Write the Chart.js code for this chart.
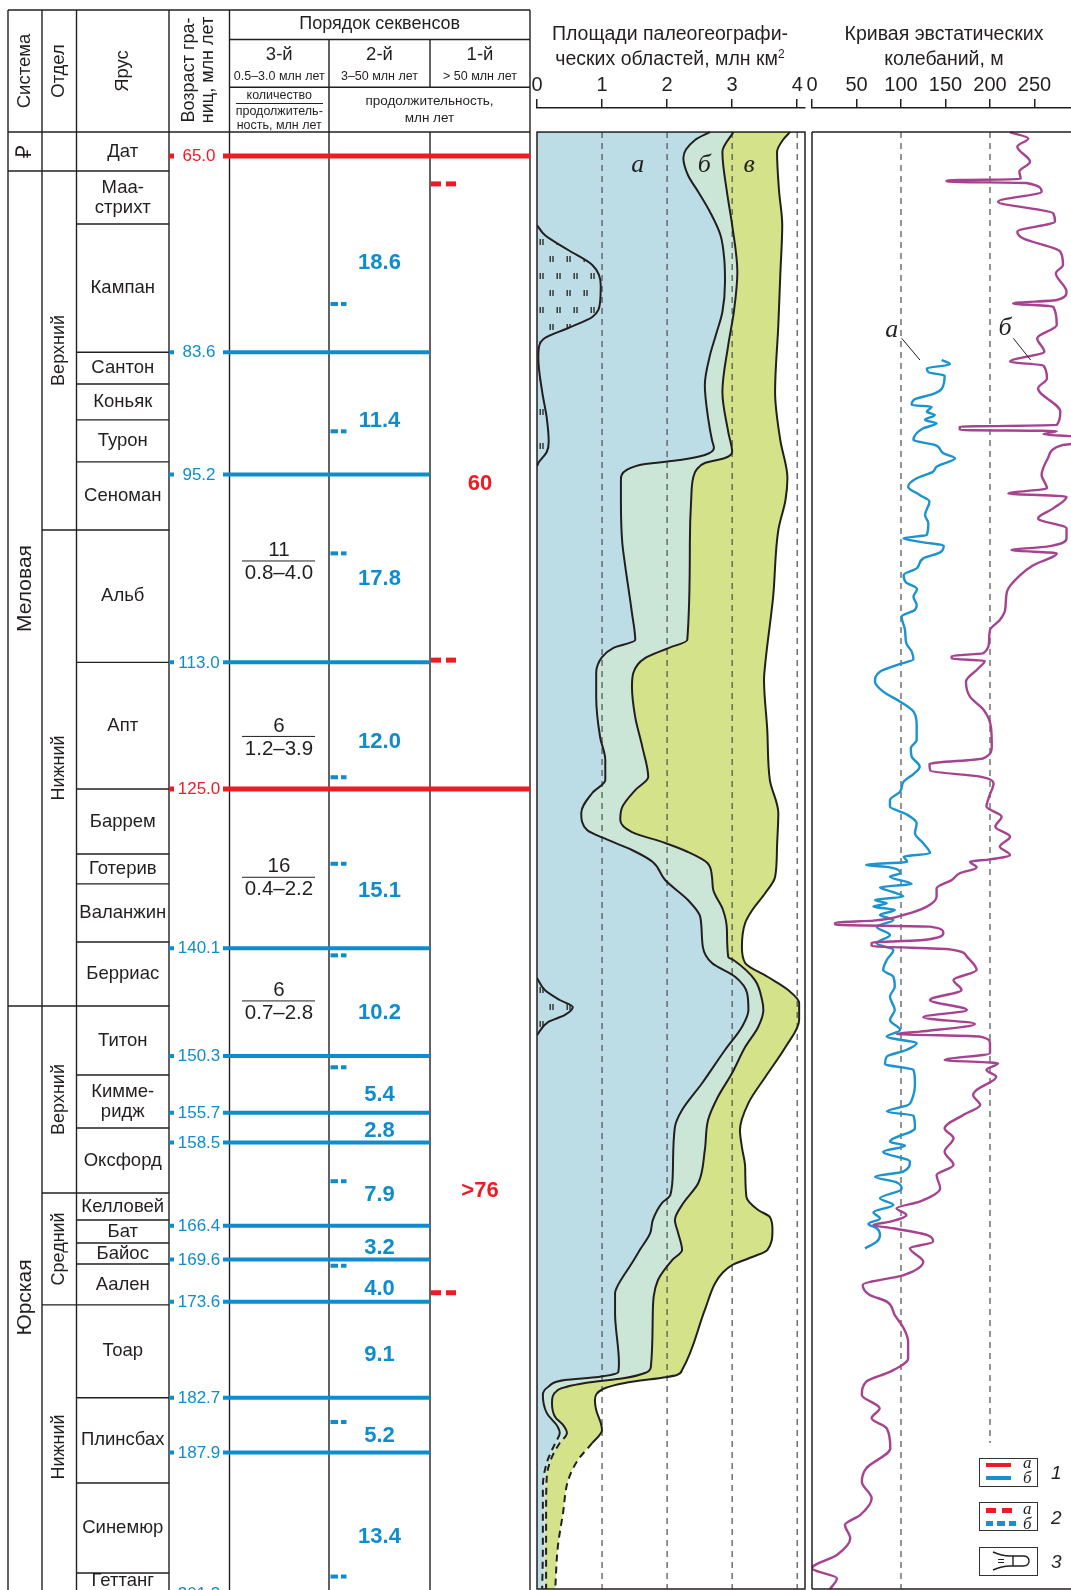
<!DOCTYPE html>
<html lang="ru">
<head>
<meta charset="utf-8">
<title>Порядок секвенсов, палеогеография и эвстатика (юра – мел)</title>
<script src="https://cdn.jsdelivr.net/npm/chart.js@4.4.1/dist/chart.umd.min.js"></script>
<style>
  html, body { margin: 0; padding: 0; background: #fff; }
  body { position: relative; width: 1071px; height: 1590px; overflow: hidden;
         font-family: "Liberation Sans", Arial, sans-serif; color: #231f20; }
  canvas.layer { position: absolute; left: 0; top: 0; }
  .title { position: absolute; top: 21px; width: 300px; text-align: center;
           font-size: 19.5px; line-height: 24.5px; }
  .title sup { font-size: 12px; vertical-align: 7px; line-height: 0; }
  .key { position: absolute; left: 979px; width: 57px; height: 27px; border: 1.5px solid #333; background: #fff; }
  .key i { position: absolute; left: 6px; width: 25px; height: 4.5px; }
  .key .red { background: #ed1c24; }
  .key .blue { background: #1b8fc9; }
  .key .red.dash { background: repeating-linear-gradient(90deg, #ed1c24 0 10.5px, transparent 10.5px 16px); width: 28px; }
  .key .blue.dash { background: repeating-linear-gradient(90deg, #1b8fc9 0 7px, transparent 7px 11.5px); width: 30px; }
  .key b { position: absolute; left: 43px; font: italic 17px/14px "Liberation Serif", serif; font-weight: normal; }
  .key svg { position: absolute; left: 12px; top: 2px; }
  .knum { position: absolute; left: 1051px; font: italic 19px/20px "Liberation Sans", Arial, sans-serif; }
</style>
</head>
<body>
<canvas id="tableChart" class="layer" width="1071" height="1590"></canvas>
<canvas id="areaChart" class="layer" width="1071" height="1590"></canvas>
<canvas id="seaChart" class="layer" width="1090" height="1590"></canvas>

<div class="title" style="left:520px">Площади палеогеографи-<br>ческих областей, млн км<sup>2</sup></div>
<div class="title" style="left:794px">Кривая эвстатических<br>колебаний, м</div>

<div class="key" style="top:1458px">
  <i class="red" style="top:3.5px"></i><i class="blue" style="top:16.5px"></i>
  <b style="top:-3px">а</b><b style="top:12px">б</b>
</div>
<span class="knum" style="top:1463px">1</span>
<div class="key" style="top:1502px">
  <i class="red dash" style="top:5px"></i><i class="blue dash" style="top:18px"></i>
  <b style="top:-1px">а</b><b style="top:14px">б</b>
</div>
<span class="knum" style="top:1508px">2</span>
<div class="key" style="top:1547px">
  <svg width="40" height="22" viewBox="0 0 40 22">
    <path d="M1 2 Q10 6 18 6 L31 6 Q37 6 37 11 Q37 16 31 16 L18 16 Q10 16 1 20" fill="none" stroke="#231f20" stroke-width="1.4"/>
    <path d="M21 6 L21 16" stroke="#231f20" stroke-width="1.4"/>
    <path d="M6 9.5 L12 9.5 M6 12.5 L12 12.5" stroke="#231f20" stroke-width="1.1"/>
  </svg>
</div>
<span class="knum" style="top:1552px">3</span>

<script>
// ---------- stratigraphic table (ages in Ma) ----------
const boundaryAges = [65.0, 83.6, 95.2, 113.0, 125.0, 140.1, 150.3, 155.7, 158.5, 166.4, 169.6, 173.6, 182.7, 187.9, 201.3];
const boundaryRank = [1, 2, 2, 2, 1, 2, 2, 2, 2, 2, 2, 2, 2, 2, 2];

const systemNames = ['₽', 'Меловая', 'Юрская'];
const systemBase = [66.42, 145.57, 203.0];
const seriesNames = ['', 'Верхний', 'Нижний', 'Верхний', 'Средний', 'Нижний'];
const seriesBase = [66.42, 100.45, 145.57, 163.29, 173.9, 203.0];
const stageNames = ['Дат', 'Маа-\nстрихт', 'Кампан', 'Сантон', 'Коньяк', 'Турон', 'Сеноман', 'Альб', 'Апт',
  'Баррем', 'Готерив', 'Валанжин', 'Берриас', 'Титон', 'Кимме-\nридж', 'Оксфорд', 'Келловей', 'Бат',
  'Байос', 'Аален', 'Тоар', 'Плинсбах', 'Синемюр', 'Геттанг'];
const stageBase = [66.42, 71.45, 83.6, 86.61, 90.02, 94.00, 100.45, 113.0, 125.0,
  131.16, 134.00, 139.50, 145.57, 152.11, 157.13, 163.29, 165.86, 168.03,
  170.02, 173.9, 182.7, 190.79, 199.32, 203.0];

const thirdOrderCount = ['11', '6', '16', '6'];
const thirdOrderSpan = ['0.8–4.0', '1.2–3.9', '0.4–2.2', '0.7–2.8'];
const thirdOrderAt = [103.39, 120.02, 133.37, 145.09];
const secondOrderDuration = ['18.6', '11.4', '17.8', '12.0', '15.1', '10.2', '5.4', '2.8', '7.9', '3.2', '4.0', '9.1', '5.2', '13.4'];
const secondOrderAt = [75.18, 90.12, 105.08, 120.51, 134.69, 146.26, 153.98, 157.46, 163.44, 168.55, 172.39, 178.68, 186.29, 195.94];
const secondOrderMarks = [79.03, 91.10, 102.67, 123.89, 132.09, 140.77, 151.38, 162.18, 170.19, 185.00, 199.65];
const firstOrderDuration = ['60', '>76'];
const firstOrderAt = [96.11, 163.14];
const firstOrderMarks = [67.65, 112.79, 172.75];

// ---------- paleogeographic areas, mln km2: [age, cumulative area] ----------
const curveA = [[62.73,2.66],[63.48,2.43],[65.19,2.25],[66.80,2.32],[68.41,2.48],[70.31,2.66],[72.49,2.82],[74.86,2.88],
  [76.94,2.89],[79.79,2.85],[81.97,2.75],[83.86,2.66],[86.71,2.58],[89.83,2.63],[91.92,2.69],[92.68,2.72],[93.34,2.58],
  [93.82,2.20],[94.20,1.66],[94.76,1.38],[95.71,1.29],[97.61,1.29],[101.59,1.31],[103.58,1.35],[108.32,1.46],[110.88,1.51],
  [111.64,1.17],[112.49,1.00],[114.01,0.91],[116.28,0.91],[120.07,0.97],[122.25,1.05],[124.15,1.05],[125.38,0.85],
  [127.27,0.68],[128.89,0.77],[129.83,1.09],[130.78,1.46],[131.92,1.78],[133.63,1.97],[135.52,2.32],[137.13,2.51],
  [139.98,2.55],[141.49,2.69],[142.82,3.05],[144.34,3.23],[145.95,3.25],[147.56,3.15],[149.74,2.89],[152.87,2.54],
  [155.43,2.23],[157.04,2.12],[160.83,2.09],[163.49,2.05],[164.25,1.92],[165.86,1.78],[167.09,1.74],[168.70,1.58],
  [169.93,1.46],[172.21,1.23],[172.77,1.20],[174.67,1.20],[179.41,1.26],[180.26,1.25],[180.73,0.94],[181.02,0.43],
  [181.68,0.17],[182.44,0.09],[184.14,0.15],[185.47,0.32],[186.04,0.35],[186.99,0.28],[188.88,0.15],[191.16,0.09],
  [196.85,0.09],[200.83,0.08]];
const curveB = [[62.73,3.02],[64.62,2.85],[68.41,2.92],[71.54,3.00],[75.99,3.08],[79.60,3.03],[82.92,2.94],[87.37,2.85],
  [91.16,2.94],[93.06,3.00],[93.63,2.89],[94.10,2.58],[94.76,2.45],[95.52,2.40],[97.61,2.37],[101.59,2.35],[110.88,2.31],
  [111.64,2.02],[112.59,1.66],[114.01,1.48],[115.34,1.46],[118.18,1.51],[121.03,1.62],[123.87,1.71],[125.10,1.51],
  [126.71,1.31],[127.94,1.28],[129.08,1.46],[130.12,1.97],[130.97,2.32],[132.02,2.62],[133.34,2.69],[134.58,2.71],
  [136.47,2.86],[138.37,2.92],[140.93,2.94],[141.21,3.02],[143.11,3.35],[145.00,3.46],[145.95,3.48],[147.56,3.40],
  [149.46,3.20],[151.92,3.00],[154.20,2.78],[156.38,2.63],[159.22,2.58],[162.35,2.48],[164.25,2.25],[165.86,2.12],
  [167.09,2.17],[168.70,2.23],[169.64,2.08],[171.54,1.86],[174.67,1.78],[179.79,1.75],[180.36,1.66],[180.83,1.35],
  [181.30,0.74],[181.97,0.32],[183.20,0.23],[184.53,0.28],[185.28,0.40],[186.04,0.46],[186.99,0.35],[188.31,0.23],
  [190.21,0.15],[193.63,0.14],[200.83,0.14]];
const curveC = [[62.73,3.89],[63.48,3.78],[64.62,3.69],[68.22,3.72],[71.54,3.77],[76.28,3.74],[81.02,3.71],[87.37,3.66],
  [91.92,3.74],[95.52,3.85],[97.61,3.82],[100.45,3.71],[106.80,3.63],[113.06,3.51],[114.67,3.49],[119.41,3.54],
  [124.15,3.58],[127.27,3.71],[130.50,3.69],[133.34,3.66],[134.86,3.51],[136.47,3.31],[137.70,3.20],[139.98,3.15],
  [141.49,3.20],[142.82,3.55],[144.05,3.86],[145.29,4.03],[146.90,4.03],[149.46,3.82],[152.30,3.51],[154.77,3.25],
  [157.33,3.12],[158.94,3.15],[160.83,3.20],[163.68,3.22],[164.91,3.40],[165.57,3.58],[166.80,3.62],[168.70,3.54],
  [169.36,3.31],[170.12,3.00],[170.88,2.85],[171.83,2.74],[174.38,2.58],[180.07,2.23],[180.54,2.15],[181.30,1.35],
  [181.78,1.05],[182.91,0.89],[183.86,0.91],[185.09,0.98],[185.76,1.00],[186.99,0.85],[188.60,0.63],[190.50,0.48],
  [193.63,0.40],[196.85,0.32],[200.83,0.28]];
const lensUpper = [[71.54,0],[72.49,0.12],[73.91,0.48],[75.33,0.85],[77.23,0.98],[78.84,0.97],[80.26,0.85],[81.30,0.48],
  [82.25,0.12],[83.11,0.03],[84.15,0.02],[87.37,0.08],[89.83,0.15],[92.11,0.18],[93.06,0.15],[94.01,0.03],[94.40,0]];
const lensLower = [[142.92,0],[144.05,0.12],[145.00,0.35],[145.67,0.55],[146.42,0.43],[147.09,0.17],[148.32,0]];
const areaLabels = ['а', 'б', 'в'];
const areaLabelX = [1.55, 2.57, 3.26];
const areaLabelAge = 65.85;

// ---------- eustatic curves, m: [age, level] ----------
const seaLevelA = [[84.34,145.7],[84.75,155],[85.13,129],[85.51,131],[85.82,149],[87.02,146],[87.50,138],[88.13,114],
  [88.60,112],[88.76,134.5],[89.23,129],[89.55,138],[90.02,127],[90.34,140],[90.81,125],[91.92,114],[92.39,138],
  [93.18,147.6],[93.66,160.7],[94.45,140],[94.92,136],[95.55,117.6],[96.34,108],[97.13,121],[97.76,132],[99.03,127],
  [99.82,130.7],[100.92,129],[101.24,102.6],[101.62,125],[101.94,148],[102.57,144],[103.14,125],[104.08,117.6],
  [104.72,103],[105.41,105.6],[106.04,118],[106.77,114],[107.56,117.6],[108.03,115.7],[108.67,100.7],[109.93,104.5],
  [111.19,106],[111.98,112],[112.71,114],[113.15,99],[113.88,76.4],[114.83,70.8],[115.77,80],[116.72,99],[117.67,114],
  [118.93,117.6],[120.36,117.6],[121.14,111],[121.94,112],[122.88,121],[123.58,114],[124.30,103],[125.25,99],
  [126.04,87.6],[126.67,87.6],[127.37,105.6],[128.25,117.6],[129.20,115.7],[130.15,125],[131.10,132.6],[131.41,103],
  [131.89,107],[132.20,60.7],[132.43,87.6],[132.99,99],[133.31,87.6],[134.00,112],[134.32,76.4],[134.73,89.5],
  [135.20,102.6],[135.52,70.8],[135.84,84],[136.15,69],[136.47,93],[136.94,76.4],[137.42,91.4],[138.05,72.7],
  [138.84,87.6],[139.63,72.7],[140.26,91.4],[141.21,84],[142.16,80],[142.79,91.4],[143.74,93],[144.68,87.6],
  [145.95,93],[146.89,87.6],[147.84,99],[148.47,84],[149.11,117.6],[149.74,106],[150.37,84],[151.07,82],[151.63,114],
  [152.90,115.7],[154.48,112],[154.95,108],[155.58,84],[155.96,114],[157.16,115.7],[158.43,87.6],[158.81,104.5],
  [159.38,80],[160.32,110],[161.27,102.6],[161.75,70.8],[162.28,95],[162.91,100.7],[163.80,76.4],[164.43,91.4],
  [165.13,69],[165.70,76.4],[166.23,63.3],[166.64,72.7],[167.27,76.4],[167.91,72.7],[168.54,59.6]];
const seaLevelB = [[62.76,222.5],[63.33,243],[64.12,230.7],[65.54,245],[66.49,233],[67.18,234.5],[67.31,151.3],[67.43,151.3],
  [67.56,241],[68.38,258],[69.33,209],[70.43,271],[71.22,273],[72.17,230.7],[72.80,237],[74.07,279],[75.33,282],
  [76.12,274],[77.86,286],[78.65,275],[78.97,226],[79.28,271],[81.02,275],[82.28,253],[83.55,261],[84.49,222.5],
  [84.87,260],[86.08,264],[87.02,254],[89.23,279],[90.50,275],[90.66,166],[90.97,166],[91.07,275],[91.38,260],
  [91.60,296],[92.24,296],[92.39,282],[93.66,265],[95.24,258],[96.50,264],[96.98,220.6],[97.29,286],[98.40,271],
  [99.35,254],[100.29,286],[101.24,286],[102.03,264],[102.35,224],[102.66,275],[103.77,249],[104.72,234],[106.30,219],
  [108.03,217],[108.98,211],[109.93,200],[110.88,199],[112.14,192.5],[112.39,157],[112.65,157],[112.84,194],
  [113.56,187],[114.83,173],[116.25,177.5],[117.51,193],[119.09,201],[120.99,202],[122.09,192.5],[122.63,132],
  [123.26,133],[123.83,189],[124.46,204],[125.73,199],[126.67,196],[127.62,213],[128.57,206],[129.52,222.5],
  [130.46,211],[131.26,222.5],[131.67,200],[131.89,177.5],[132.43,185],[132.99,166],[133.63,157],[134.42,140],
  [135.20,140],[136.15,129],[136.94,102.6],[137.48,69],[137.67,26],[137.86,26],[138.05,132.6],[138.62,147.6],
  [139.31,125],[139.57,67],[139.88,67],[140.20,155],[140.89,174],[142.16,185],[143.10,159],[144.05,168],[145.00,132.6],
  [145.95,174],[146.64,125],[147.27,183],[148.00,121],[148.22,95],[148.47,189],[149.11,200],[150.05,200],[150.69,149],
  [151.00,209],[151.63,196],[152.27,207],[153.53,185],[154.01,181],[154.95,189],[155.90,170],[157.16,149],[158.11,159],
  [159.38,149],[160.64,159],[161.59,140],[162.85,144],[164.12,121],[164.75,95],[165.38,106],[166.01,88],[166.33,69],
  [166.64,91],[167.27,129],[167.91,136],[168.54,110],[169.80,125],[171.07,103],[172.01,57],[172.96,65],[173.59,84],
  [174.86,93],[176.12,103],[177.38,108],[178.97,108],[180.23,88],[181.18,61],[182.44,56],[183.70,76],[184.65,67],
  [185.60,84],[187.50,88],[189.39,61],[190.66,56],[192.24,67],[193.82,54],[194.76,37],[196.03,43],[197.61,28],
  [198.87,0],[199.82,28],[200.86,20]];
const seaGrid = [100, 200];
const seaGridEnd = [200.83, 187.0];
const seaLabels = ['а', 'б'];
const seaLabelAt = [[81.49, 89.6], [81.33, 216.9]];
const seaLeaders = [[[82.28, 100.8], [84.34, 121.3]], [[82.28, 226.2], [84.34, 245.7]]];

// ---------- shared look ----------
const INK = '#231f20';
const RED = '#ed1c24';
const BLUE = '#0f8ccc';
const SEA_BLUE = '#1b93cf';
const PURPLE = '#a6438f';
const FILL_A = '#bddde6';
const FILL_B = '#cbe6d7';
const FILL_C = '#d4e289';
const FONT = '"Liberation Sans", Arial, sans-serif';
const SERIF = '"Liberation Serif", "Times New Roman", serif';
const AGE_TOP = 62.73;      // top edge of the table body and data boxes
const AGE_BOTTOM = 200.83;  // bottom edge of the page
const AGE_AXIS = 60.45;     // level of the x-axis line above the boxes
const DASH_FROM = 186.0;    // area outlines are dashed below this age

const TABLE_COLS = { sys: 8, dep: 42, stage: 76.5, age: 169, s3: 229.5, s2: 329, s1: 430, end: 530 };
const HEAD = { top: 10, row1: 39.5, row2: 87.2, bottom: 132 };

function seg(ctx, x1, y1, x2, y2) {
  ctx.beginPath(); ctx.moveTo(x1, y1); ctx.lineTo(x2, y2); ctx.stroke();
}
function text(ctx, str, x, y, font, rotate) {
  ctx.save();
  ctx.translate(x, y);
  if (rotate) ctx.rotate(-Math.PI / 2);
  ctx.font = font; ctx.textAlign = 'center'; ctx.textBaseline = 'middle';
  ctx.fillText(str, 0, 0);
  ctx.restore();
}
const px = s => s + 'px ' + FONT;
const toXY = pairs => pairs.map(([age, v]) => ({ x: v, y: age }));
const noChrome = { legend: { display: false }, tooltip: { enabled: false } };

// ---------- table ----------
const stratTable = {
  id: 'stratTable',
  afterDraw(chart) {
    const { ctx, chartArea: area } = chart;
    const yScale = chart.scales.y;
    const Y = age => yScale.getPixelForValue(age);
    const mid = (a0, a1) => (Math.max(Y(a0), area.top) + Math.min(Y(a1), area.bottom)) / 2;
    const C = TABLE_COLS;
    const H = chart.height;
    ctx.save();
    ctx.strokeStyle = INK; ctx.fillStyle = INK; ctx.lineWidth = 1.4;

    [C.sys, C.dep, C.stage, C.age, C.s3, C.end].forEach(x => seg(ctx, x, HEAD.top, x, H));
    seg(ctx, C.s2, HEAD.row1, C.s2, H);
    seg(ctx, C.s1, HEAD.row1, C.s1, HEAD.row2);
    seg(ctx, C.s1, HEAD.bottom, C.s1, H);
    seg(ctx, C.sys, HEAD.top, C.end, HEAD.top);
    seg(ctx, C.s3, HEAD.row1, C.end, HEAD.row1);
    seg(ctx, C.s3, HEAD.row2, C.end, HEAD.row2);
    seg(ctx, C.sys, HEAD.bottom, C.end, HEAD.bottom);

    // header
    text(ctx, 'Система', 25, 71, px(18.5), true);
    text(ctx, 'Отдел', 59, 71, px(18.5), true);
    text(ctx, 'Ярус', 123, 71, px(18.5), true);
    text(ctx, 'Возраст гра-', 189.5, 70, px(18), true);
    text(ctx, 'ниц, млн лет', 208, 70, px(18), true);
    text(ctx, 'Порядок секвенсов', (C.s3 + C.end) / 2, 24, px(18));
    text(ctx, '3-й', (C.s3 + C.s2) / 2, 55, px(18.5));
    text(ctx, '2-й', (C.s2 + C.s1) / 2, 55, px(18.5));
    text(ctx, '1-й', (C.s1 + C.end) / 2, 55, px(18.5));
    text(ctx, '0.5–3.0 млн лет', (C.s3 + C.s2) / 2, 76.5, px(12.5));
    text(ctx, '3–50 млн лет', (C.s2 + C.s1) / 2, 76.5, px(12.5));
    text(ctx, '> 50 млн лет', (C.s1 + C.end) / 2, 76.5, px(12.5));
    text(ctx, 'количество', (C.s3 + C.s2) / 2, 96, px(12.5));
    ctx.lineWidth = 1;
    seg(ctx, 236, 103.5, 323, 103.5);
    text(ctx, 'продолжитель-', (C.s3 + C.s2) / 2, 112, px(12.5));
    text(ctx, 'ность, млн лет', (C.s3 + C.s2) / 2, 126, px(12.5));
    text(ctx, 'продолжительность,', (C.s2 + C.end) / 2, 101, px(13.5));
    text(ctx, 'млн лет', (C.s2 + C.end) / 2, 118.5, px(13.5));
    ctx.lineWidth = 1.4;

    // system / series / stage columns
    let prev = AGE_TOP;
    systemNames.forEach((name, i) => {
      const base = systemBase[i];
      if (base < AGE_BOTTOM) seg(ctx, C.sys, Y(base), C.dep, Y(base));
      text(ctx, name, (C.sys + C.dep) / 2, mid(prev, base), px(i === 0 ? 22 : 21), true);
      prev = base;
    });
    prev = AGE_TOP;
    seriesNames.forEach((name, i) => {
      const base = seriesBase[i];
      if (base < AGE_BOTTOM) seg(ctx, C.dep, Y(base), C.stage, Y(base));
      if (name) text(ctx, name, (C.dep + C.stage) / 2, mid(prev, base), px(18), true);
      prev = base;
    });
    prev = AGE_TOP;
    stageNames.forEach((name, i) => {
      const base = stageBase[i];
      if (base < AGE_BOTTOM) seg(ctx, C.stage, Y(base), C.age, Y(base));
      const lines = name.split('\n');
      const cy = mid(prev, base);
      lines.forEach((l, k) => text(ctx, l, (C.stage + C.age) / 2, cy + (k - (lines.length - 1) / 2) * 20, px(18.5)));
      prev = base;
    });

    // sequence boundaries with their ages
    boundaryAges.forEach((age, i) => {
      const first = boundaryRank[i] === 1;
      const y = Y(age);
      ctx.strokeStyle = first ? RED : BLUE;
      ctx.lineWidth = first ? 5 : 4;
      seg(ctx, C.age, y, first ? C.end : C.s1, y);
      ctx.fillStyle = '#fff';
      ctx.fillRect(174, y - 10, 49, 20);
      ctx.fillStyle = first ? RED : BLUE;
      text(ctx, age.toFixed(1), 199, y + 0.5, px(17));
    });

    // 3rd order: count over duration range
    ctx.fillStyle = INK; ctx.strokeStyle = INK; ctx.lineWidth = 1;
    thirdOrderAt.forEach((age, i) => {
      const y = Y(age);
      seg(ctx, 242, y, 315, y);
      text(ctx, thirdOrderCount[i], 279, y - 10.5, px(20.5));
      text(ctx, thirdOrderSpan[i], 279, y + 12.5, px(20.5));
    });

    // 2nd order durations and marks
    ctx.fillStyle = BLUE;
    secondOrderAt.forEach((age, i) => text(ctx, secondOrderDuration[i], (C.s2 + C.s1) / 2, Y(age), 'bold ' + px(22)));
    secondOrderMarks.forEach(age => {
      const y = Y(age);
      ctx.fillRect(330.5, y - 2, 7.5, 4);
      ctx.fillRect(341, y - 2, 5.5, 4);
    });

    // 1st order durations and marks
    ctx.fillStyle = RED;
    firstOrderAt.forEach((age, i) => text(ctx, firstOrderDuration[i], (C.s1 + C.end) / 2, Y(age), 'bold ' + px(22)));
    firstOrderMarks.forEach(age => {
      const y = Y(age);
      ctx.fillRect(431, y - 2.5, 10, 5);
      ctx.fillRect(446, y - 2.5, 10, 5);
    });
    ctx.restore();
  },
};

new Chart(document.getElementById('tableChart'), {
  type: 'scatter',
  data: { datasets: [] },
  options: {
    responsive: false, animation: false, events: [],
    layout: { padding: { left: 8, right: 1071 - 530, top: 132, bottom: 1 } },
    scales: {
      x: { type: 'linear', display: false, min: 0, max: 1 },
      y: { type: 'linear', display: false, reverse: true, min: AGE_TOP, max: AGE_BOTTOM },
    },
    plugins: noChrome,
  },
  plugins: [stratTable],
});

// ---------- paleogeographic areas ----------
const areaCanvas = document.getElementById('areaChart');

function lensPattern(canvas) {
  const tile = document.createElement('canvas');
  tile.width = 17; tile.height = 34;
  const g = tile.getContext('2d');
  g.fillStyle = FILL_A; g.fillRect(0, 0, 17, 34);
  g.fillStyle = '#2e2e2e';
  [[12.5, 1], [5.5, 18]].forEach(([x, y]) => {
    g.fillRect(x, y, 1.4, 6);
    g.fillRect(x + 2.8, y, 1.4, 6);
  });
  return canvas.getContext('2d').createPattern(tile, 'repeat');
}
const lensFill = lensPattern(areaCanvas);

function outline(label, pairs, fillColor) {
  return {
    label,
    data: toXY(pairs),
    borderColor: INK,
    borderWidth: 2,
    backgroundColor: fillColor,
    fill: 'origin',
    pointRadius: 0,
    cubicInterpolationMode: 'monotone',
    segment: { borderDash: c => (c.p0.parsed.y >= DASH_FROM ? [7, 5] : undefined) },
  };
}

const areaFrame = {
  id: 'areaFrame',
  beforeDatasetsDraw(chart) {
    const { ctx, chartArea: ca, scales: { x, y } } = chart;
    const top = y.getPixelForValue(AGE_TOP);
    ctx.save();
    ctx.strokeStyle = '#4d4d4d'; ctx.lineWidth = 1.2; ctx.setLineDash([6, 5]);
    x.ticks.filter(t => t.value > 0).forEach(t => {
      const p = x.getPixelForValue(t.value);
      seg(ctx, p, top, p, ca.bottom);
    });
    ctx.restore();
  },
  afterDatasetsDraw(chart) {
    const { ctx, chartArea: ca, scales: { x, y } } = chart;
    const top = y.getPixelForValue(AGE_TOP);
    ctx.save();
    ctx.strokeStyle = INK; ctx.lineWidth = 1.5;
    ctx.strokeRect(ca.left, top, ca.right - ca.left, ca.bottom - top);
    ctx.fillStyle = INK;
    areaLabels.forEach((l, i) => text(ctx, l, x.getPixelForValue(areaLabelX[i]), y.getPixelForValue(areaLabelAge), 'italic 26px ' + SERIF));
    ctx.restore();
  },
};

const topAxis = (max, step, extra) => ({
  type: 'linear', position: 'top', min: 0, max,
  ticks: { stepSize: step, includeBounds: false, color: INK, padding: 2, font: { size: 20, family: FONT }, ...extra },
  grid: { drawOnChartArea: false, color: INK, lineWidth: 1.5, tickLength: 9 },
  border: { color: INK, width: 1.5 },
  afterFit: s => { s.height = 40; },
});
const ageAxis = { type: 'linear', display: false, reverse: true, min: AGE_AXIS, max: AGE_BOTTOM };

new Chart(areaCanvas, {
  type: 'line',
  data: {
    datasets: [
      outline('линза 1', lensUpper, lensFill),
      outline('линза 2', lensLower, lensFill),
      outline('а', curveA, FILL_A),
      outline('б', curveB, FILL_B),
      outline('в', curveC, FILL_C),
    ],
  },
  options: {
    indexAxis: 'y', responsive: false, animation: false, events: [],
    layout: { padding: { left: 537, right: 1071 - 805, top: 68, bottom: 1 } },
    scales: { x: topAxis(4.12, 1), y: ageAxis },
    plugins: { ...noChrome, filler: { drawTime: 'beforeDatasetsDraw' } },
  },
  plugins: [areaFrame],
});

// ---------- eustatic curves ----------
const seaFrame = {
  id: 'seaFrame',
  beforeDatasetsDraw(chart) {
    const { ctx, scales: { x, y } } = chart;
    const top = y.getPixelForValue(AGE_TOP);
    ctx.save();
    ctx.strokeStyle = '#4d4d4d'; ctx.lineWidth = 1.2; ctx.setLineDash([6, 5]);
    seaGrid.forEach((v, i) => seg(ctx, x.getPixelForValue(v), top, x.getPixelForValue(v), y.getPixelForValue(seaGridEnd[i])));
    ctx.restore();
  },
  afterDatasetsDraw(chart) {
    const { ctx, chartArea: ca, scales: { x, y } } = chart;
    const top = y.getPixelForValue(AGE_TOP);
    ctx.save();
    ctx.strokeStyle = INK; ctx.lineWidth = 1.5;
    seg(ctx, ca.left, top, ca.left, ca.bottom);
    seg(ctx, ca.left, top, ca.right, top);
    seg(ctx, ca.left, ca.bottom, ca.right, ca.bottom);
    ctx.fillStyle = INK; ctx.lineWidth = 1;
    seaLabels.forEach((l, i) => {
      const [age, lvl] = seaLabelAt[i];
      text(ctx, l, x.getPixelForValue(lvl), y.getPixelForValue(age), 'italic 26px ' + SERIF);
      const [[a0, v0], [a1, v1]] = seaLeaders[i];
      seg(ctx, x.getPixelForValue(v0), y.getPixelForValue(a0), x.getPixelForValue(v1), y.getPixelForValue(a1));
    });
    ctx.restore();
  },
};

new Chart(document.getElementById('seaChart'), {
  type: 'line',
  data: {
    datasets: [
      { label: 'б', data: toXY(seaLevelB), borderColor: PURPLE, borderWidth: 2.4, pointRadius: 0, fill: false, cubicInterpolationMode: 'monotone' },
      { label: 'а', data: toXY(seaLevelA), borderColor: SEA_BLUE, borderWidth: 2.4, pointRadius: 0, fill: false, cubicInterpolationMode: 'monotone' },
    ],
  },
  options: {
    indexAxis: 'y', responsive: false, animation: false, events: [],
    layout: { padding: { left: 812, right: 11, top: 68, bottom: 1 } },
    scales: { x: topAxis(300, 50, { callback: v => (v <= 250 ? v : '') }), y: ageAxis },
    plugins: noChrome,
  },
  plugins: [seaFrame],
});
</script>
</body>
</html>
